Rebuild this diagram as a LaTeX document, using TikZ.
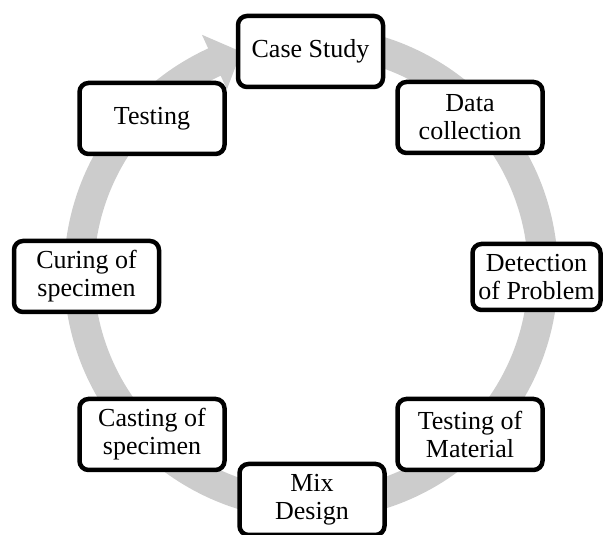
\documentclass[tikz,border=0pt]{standalone}
\usepackage{fontspec}
\setmainfont{Liberation Serif}
\usetikzlibrary{calc}
\definecolor{ringgray}{RGB}{204,204,204}
\begin{document}
\begin{tikzpicture}[x=1pt,y=1pt,
  stage/.style={draw=black, line width=4.5pt, rounded corners=9pt, fill=white,
    align=center, font=\fontsize{26}{28}\selectfont,
    minimum width=145pt, minimum height=71pt, inner sep=0pt}]
\useasboundingbox (0,0) rectangle (606,535);
\coordinate (c) at (311,262);
% cycle arrow
\fill[ringgray] ($(c)+(100:247)$) arc[start angle=100, end angle=-245.4, radius=247]
  -- ($(c)+(114.6:262)$) -- ($(c)+(107.5:232)$) -- ($(c)+(114.6:202)$)
  -- ($(c)+(114.6:217)$) arc[start angle=-245.4, end angle=100, radius=217] -- cycle;
% stages
\node[stage] (case) at (310.5,483.5) {Case Study};
\node[stage] (data) at (470,417.5) {Data\\collection};
\node[stage, minimum width=128pt, minimum height=66pt] (detect) at (536.5,258) {Detection\\of Problem};
\node[stage] (tmat) at (470,100.5) {Testing of\\Material};
\node[stage] (mix) at (312,35.5) {Mix\\Design};
\node[stage] (cast) at (152,100.5) {Casting of\\specimen};
\node[stage] (cure) at (86.5,258.5) {Curing of\\specimen};
\node[stage] (test) at (152,416.5) {Testing};
\end{tikzpicture}
\end{document}
